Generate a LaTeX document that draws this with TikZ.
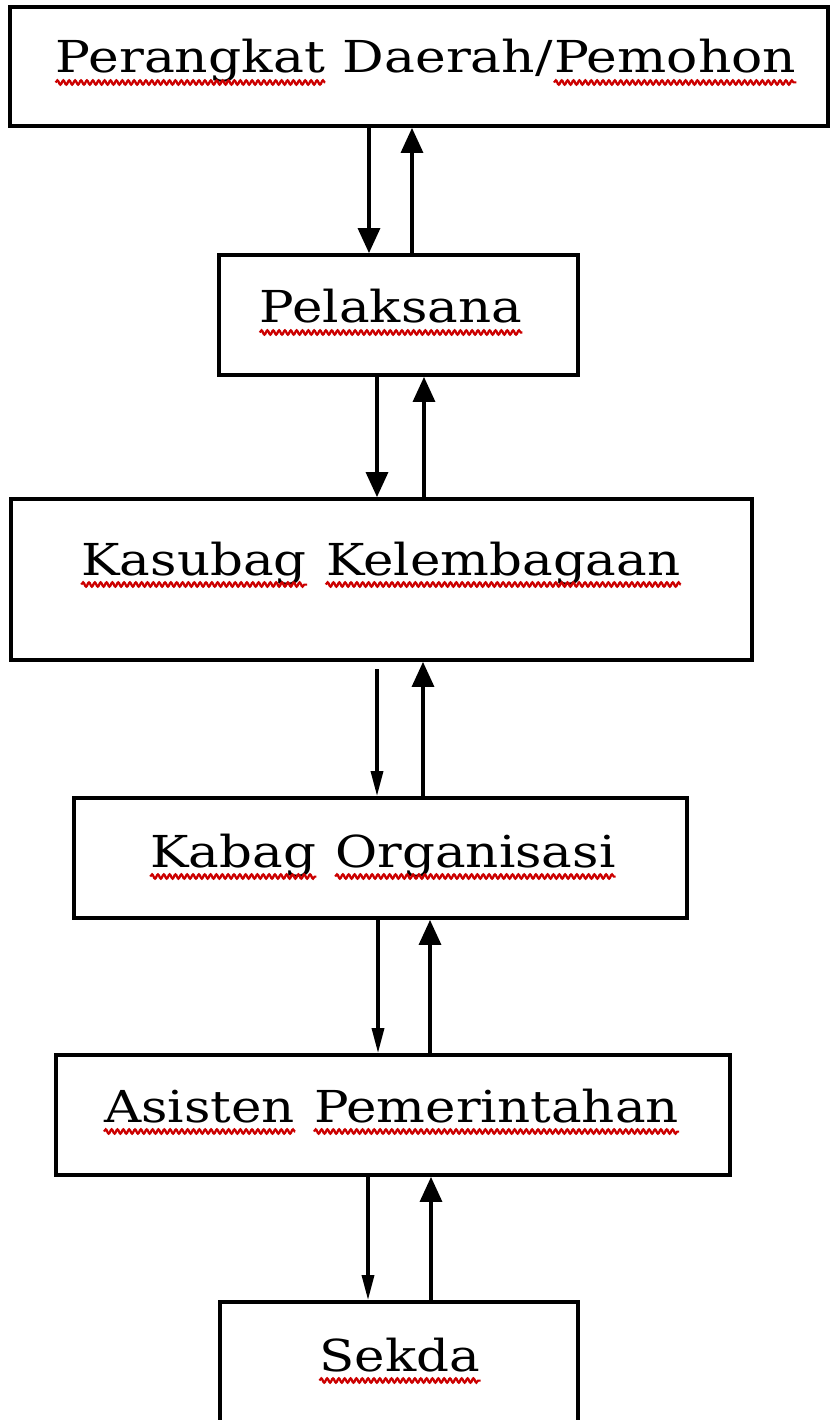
\documentclass[tikz,border=0pt]{standalone}
\usepackage{fontspec}
\setmainfont{DejaVu Serif}
\usetikzlibrary{arrows.meta,decorations.pathmorphing}
\newcommand\wv[1]{\tikz[baseline=(w.base),x=1pt,y=1pt]{\node[inner sep=0pt,anchor=base,draw=none] (w) at (0,0) {#1};\draw[red!80!black,line width=2pt,decorate,decoration={snake,segment length=5pt,amplitude=2.2pt}] ([yshift=-9.5pt]w.base west) -- ([yshift=-9.5pt]w.base east);}}
\newcommand\sx{1.17}
\tikzset{
  box/.style={draw, line width=3.8pt, inner sep=0pt},
  lbl/.style={anchor=base, inner sep=0pt, font=\fontsize{44}{52}\selectfont},
  arr/.style={line width=3.3pt, -{Triangle[length=25pt,width=22pt]}},
  narr/.style={line width=3.3pt, -{Triangle[length=25pt,width=12pt]}}
}
\begin{document}
\begin{tikzpicture}[x=1pt,y=-1pt]
\useasboundingbox (0,0) rectangle (830,1420);
\fill[white] (0,0) rectangle (830,1420);
% boxes
\node[box, minimum width=818pt, minimum height=119pt] (b1) at (419,66.5) {};
\node[box, minimum width=359pt, minimum height=120pt] (b2) at (398.5,315) {};
\node[box, minimum width=741pt, minimum height=161pt] (b3) at (381.5,579.5) {};
\node[box, minimum width=613pt, minimum height=120pt] (b4) at (380.5,858) {};
\node[box, minimum width=674pt, minimum height=120pt] (b5) at (393,1115) {};
\node[box, minimum width=358pt, minimum height=138pt] (b6) at (399,1371) {};
% labels
\node[lbl] (t1) at (426,73) {\scalebox{1.18}[1]{\wv{Perangkat} Daerah/\wv{Pemohon}}};
\node[lbl] (t2) at (391,323) {\scalebox{\sx}[1]{\wv{Pelaksana}}};
\node[lbl] (t3) at (381,575) {\scalebox{\sx}[1]{\wv{Kasubag} \wv{Kelembagaan}}};
\node[lbl] (t4) at (383,867) {\scalebox{\sx}[1]{\wv{Kabag} \wv{Organisasi}}};
\node[lbl] (t5) at (391.5,1122) {\scalebox{\sx}[1]{\wv{Asisten} \wv{Pemerintahan}}};
\node[lbl] (t6) at (400,1371) {\scalebox{\sx}[1]{\wv{Sekda}}};
% connectors
\draw[arr] (b1.south -| 369,0) -- (b2.north -| 369,0);
\draw[arr] (b2.north -| 412,0) -- (b1.south -| 412,0);
\draw[arr] (b2.south -| 377,0) -- (b3.north -| 377,0);
\draw[arr] (b3.north -| 424,0) -- (b2.south -| 424,0);
\coordinate (g34) at (377,669);
\draw[narr] (g34) -- (b4.north -| g34);
\draw[arr] (b4.north -| 423,0) -- (b3.south -| 423,0);
\draw[narr] (b4.south -| 378,0) -- (b5.north -| 378,0);
\draw[arr] (b5.north -| 430,0) -- (b4.south -| 430,0);
\draw[narr] (b5.south -| 368,0) -- (b6.north -| 368,0);
\draw[arr] (b6.north -| 431,0) -- (b5.south -| 431,0);
\end{tikzpicture}
\end{document}
